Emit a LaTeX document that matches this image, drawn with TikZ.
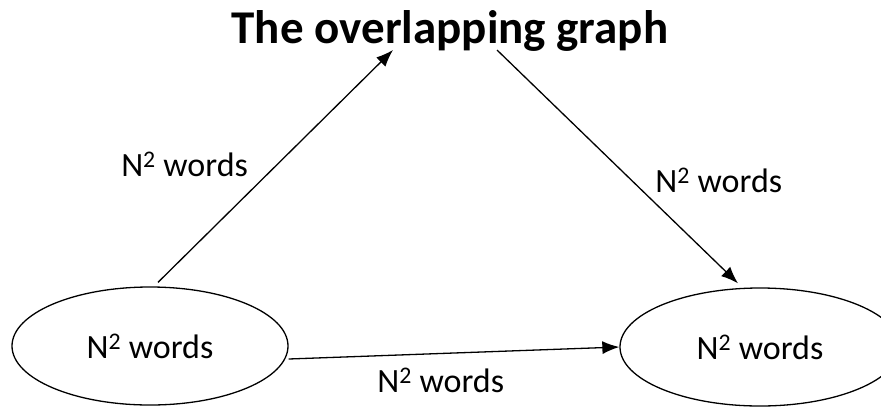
\documentclass[tikz,border=0pt]{standalone}
\usepackage{fontspec}
\setmainfont{Carlito}
\usetikzlibrary{arrows.meta,shapes.geometric}
\tikzset{
  wordset/.style={draw, ellipse, line width=1.3pt, minimum width=276pt, minimum height=118pt, font=\fontsize{34}{38}\selectfont},
  edgelabel/.style={font=\fontsize{34}{38}\selectfont},
  flow/.style={line width=1.3pt, -{Latex[length=17pt,width=13pt]}}
}
\begin{document}
\begin{tikzpicture}[x=1pt,y=-1pt]
	\useasboundingbox (0,0) rectangle (881,408);
	\node [font=\bfseries\fontsize{47}{52}\selectfont] (title) at (450,31) {The overlapping graph};
	\node [wordset] (left) at (150,346) {N\textsuperscript{2} words};
	\node [wordset, minimum width=280pt] (right) at (760,347) {N\textsuperscript{2} words};
	\coordinate (in) at (393,50);
	\coordinate (out) at (497,50);
	\draw [flow] ([xshift=8pt,yshift=4pt]left.north) -- (in) node [edgelabel, pos=0.506, anchor=east, xshift=-25pt] {N\textsuperscript{2} words};
	\draw [flow] (out) -- ([xshift=-22pt,yshift=4pt]right.north) node [edgelabel, pos=0.558, anchor=west, xshift=20pt] {N\textsuperscript{2} words};
	\draw [flow] ([yshift=-13pt]left.east) -- (right.west) node [edgelabel, pos=0.46, yshift=-27pt] {N\textsuperscript{2} words};
\end{tikzpicture}
\end{document}
